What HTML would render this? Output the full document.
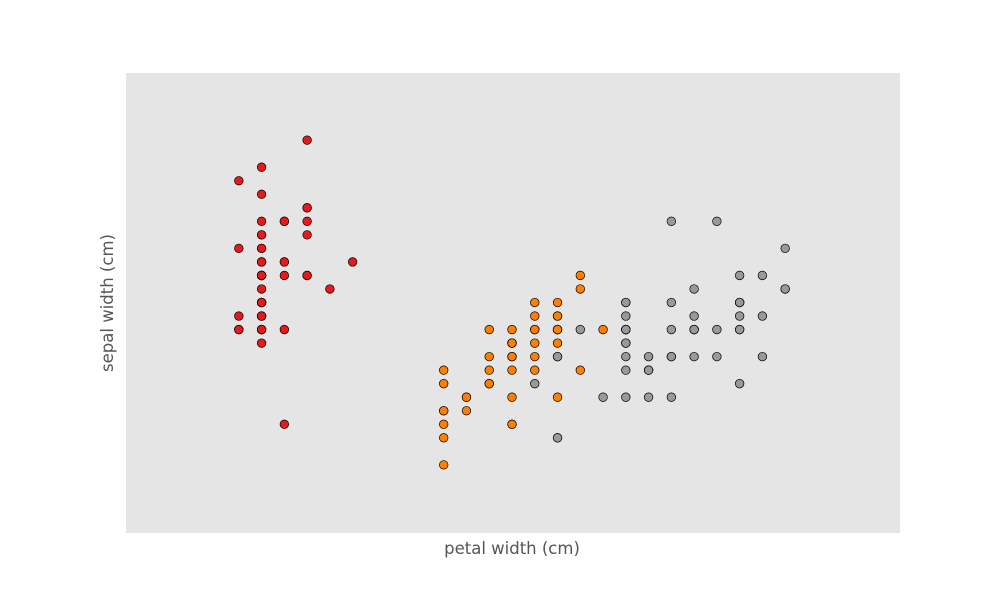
<!DOCTYPE html>
<html><head><meta charset="utf-8"><style>
body{margin:0;background:#fff;}
svg{display:block;font-family:"DejaVu Sans","Liberation Sans",sans-serif;}
</style></head><body>
<svg id="chart" width="1000" height="600" viewBox="0 0 1000 600">
<rect x="126" y="73" width="774" height="460" fill="#e5e5e5"/>
<g id="points"></g>
<text x="512" y="554" text-anchor="middle" font-size="16.5" fill="#555">petal width (cm)</text>
<text transform="translate(113,303) rotate(-90)" text-anchor="middle" font-size="16.5" fill="#555">sepal width (cm)</text>
</svg>
<script>
const petalWidth=[0.2,0.2,0.2,0.2,0.2,0.4,0.3,0.2,0.2,0.1,0.2,0.2,0.1,0.1,0.2,0.4,0.4,0.3,0.3,0.3,0.2,0.4,0.2,0.5,0.2,0.2,0.4,0.2,0.2,0.2,0.2,0.4,0.1,0.2,0.2,0.2,0.2,0.1,0.2,0.2,0.3,0.3,0.2,0.6,0.4,0.3,0.2,0.2,0.2,0.2,
1.4,1.5,1.5,1.3,1.5,1.3,1.6,1.0,1.3,1.4,1.0,1.5,1.0,1.4,1.3,1.4,1.5,1.0,1.5,1.1,1.8,1.3,1.5,1.2,1.3,1.4,1.4,1.7,1.5,1.0,1.1,1.0,1.2,1.6,1.5,1.6,1.5,1.3,1.3,1.3,1.2,1.4,1.2,1.0,1.3,1.2,1.3,1.3,1.1,1.3,
2.5,1.9,2.1,1.8,2.2,2.1,1.7,1.8,1.8,2.5,2.0,1.9,2.1,2.0,2.4,2.3,1.8,2.2,2.3,1.5,2.3,2.0,2.0,1.8,2.1,1.8,1.8,1.8,2.1,1.6,1.9,2.0,2.2,1.5,1.4,2.3,2.4,1.8,1.8,2.1,2.4,2.3,1.9,2.3,2.5,2.3,1.9,2.0,2.3,1.8];
const sepalWidth=[3.5,3.0,3.2,3.1,3.6,3.9,3.4,3.4,2.9,3.1,3.7,3.4,3.0,3.0,4.0,4.4,3.9,3.5,3.8,3.8,3.4,3.7,3.6,3.3,3.4,3.0,3.4,3.5,3.4,3.2,3.1,3.4,4.1,4.2,3.1,3.2,3.5,3.6,3.0,3.4,3.5,2.3,3.2,3.5,3.8,3.0,3.8,3.2,3.7,3.3,
3.2,3.2,3.1,2.3,2.8,2.8,3.3,2.4,2.9,2.7,2.0,3.0,2.2,2.9,2.9,3.1,3.0,2.7,2.2,2.5,3.2,2.8,2.5,2.8,2.9,3.0,2.8,3.0,2.9,2.6,2.4,2.4,2.7,2.7,3.0,3.4,3.1,2.3,3.0,2.5,2.6,3.0,2.6,2.3,2.7,3.0,2.9,2.9,2.5,2.8,
3.3,2.7,3.0,2.9,3.0,3.0,2.5,2.9,2.5,3.6,3.2,2.7,3.0,2.5,2.8,3.2,3.0,3.8,2.6,2.2,3.2,2.8,2.8,2.7,3.3,3.2,2.8,3.0,2.8,3.0,2.8,3.8,2.8,2.8,2.6,3.0,3.4,3.1,3.0,3.1,3.1,3.1,2.7,3.2,3.3,3.0,2.5,3.0,3.4,3.0];
const species=[];for(let i=0;i<150;i++)species.push(i<50?0:i<100?1:2);
const speciesNames=["setosa","versicolor","virginica"];
const colors=["#e41a1c","#ff7f00","#999999"];
const xMin=-0.4,xMax=3.0,yMin=1.5,yMax=4.9;
const X=v=>126+(v-xMin)/(xMax-xMin)*774-1;
const Y=v=>533-(v-yMin)/(yMax-yMin)*460-0.5;
const g=document.getElementById('points');
const NS="http://www.w3.org/2000/svg";
for(let i=0;i<petalWidth.length;i++){
  const c=document.createElementNS(NS,'circle');
  c.setAttribute('cx',X(petalWidth[i]));
  c.setAttribute('cy',Y(sepalWidth[i]));
  c.setAttribute('r',4.3);
  c.setAttribute('fill',colors[species[i]]);
  c.setAttribute('stroke','#000');
  c.setAttribute('stroke-width','0.7');
  
  
  g.appendChild(c);
}
</script>
</body></html>
